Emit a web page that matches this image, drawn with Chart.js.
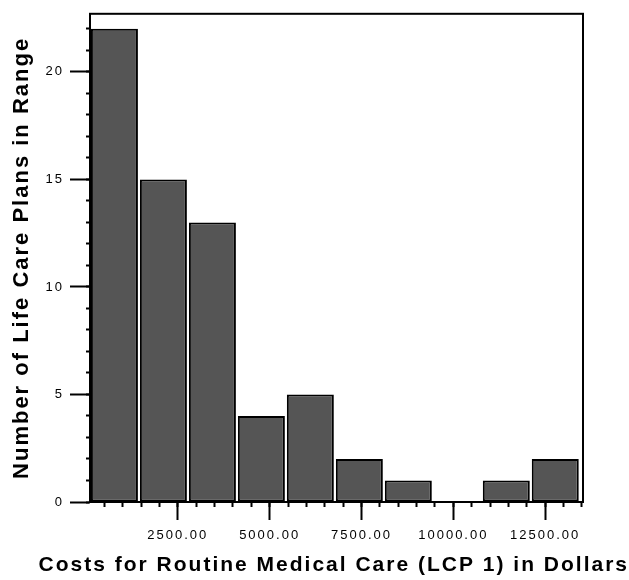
<!DOCTYPE html>
<html>
<head>
<meta charset="utf-8">
<script src="https://cdn.jsdelivr.net/npm/chart.js@4/dist/chart.umd.min.js"></script>
<style>
  html, body { margin: 0; padding: 0; background: #fff; }
  #wrap { width: 629px; height: 580px; }
</style>
</head>
<body>
<div id="wrap"><canvas id="hist"></canvas></div>
<script>
// bin midpoints (dollars) and number of plans per bin
const binCenters = [775, 2108, 3442, 4775, 6108, 7442, 8775, 10108, 11442, 12775];
const planCounts = [22, 15, 13, 4, 5, 2, 1, 0, 1, 2];
// labelled ticks
const xTickValues = [2500, 5000, 7500, 10000, 12500];
const yTickValues = [0, 5, 10, 15, 20];
// unlabelled small ticks
const xMinorStep = 500;
const yMinorStep = 1;

const xRange = { min: 110, max: 13530 };
const yRange = { min: 0, max: 22.7 };

function stepTicks(scale, step) {
  const out = [];
  for (let v = Math.ceil(scale.min / step) * step; v <= scale.max; v += step) out.push({ value: v });
  scale.ticks = out;
}

// wide text spacing like the scanned original + box around the plot
const frame = {
  id: 'frame',
  beforeLayout(chart) { chart.ctx.letterSpacing = '2px'; },
  beforeDraw(chart) { chart.ctx.letterSpacing = '2px'; },
  afterDraw(chart) {
    const a = chart.chartArea, ctx = chart.ctx;
    ctx.save();
    ctx.strokeStyle = '#000';
    ctx.lineWidth = 2;
    ctx.strokeRect(a.left, a.top, a.right - a.left, a.bottom - a.top);
    ctx.restore();
  }
};

new Chart(document.getElementById('hist'), {
  type: 'bar',
  data: {
    datasets: [{
      xAxisID: 'x',
      yAxisID: 'y',
      data: binCenters.map((x, i) => ({ x: x, y: planCounts[i] })),
      backgroundColor: '#555555',
      borderColor: '#000',
      borderWidth: 2,
      borderSkipped: false,
      barPercentage: 0.96,
      categoryPercentage: 1
    }]
  },
  plugins: [frame],
  options: {
    responsive: true,
    maintainAspectRatio: false,
    animation: false,
    layout: { padding: { top: 12, right: 0, bottom: 0, left: 0 } },
    plugins: {
      legend: { display: false },
      tooltip: { enabled: false },
      // x axis title: wider than the plot, so it goes in the full-width title box
      title: {
        display: true,
        position: 'bottom',
        align: 'end',
        text: 'Costs for Routine Medical Care (LCP 1) in Dollars',
        color: '#000',
        font: { family: 'Liberation Sans', size: 21, weight: 'bold' },
        padding: { top: 0, bottom: 2 }
      }
    },
    scales: {
      xm: {
        type: 'linear',
        position: 'bottom',
        weight: 0,
        min: xRange.min,
        max: xRange.max,
        offset: false,
        afterBuildTicks: s => stepTicks(s, xMinorStep),
        afterFit(s) { s.height = 0; },
        border: { display: false },
        grid: { offset: false, drawOnChartArea: false, tickLength: 5, tickColor: '#000', tickWidth: 2 },
        ticks: { display: false }
      },
      x: {
        type: 'linear',
        position: 'bottom',
        weight: 1,
        min: xRange.min,
        max: xRange.max,
        offset: false,
        afterBuildTicks(s) { s.ticks = xTickValues.map(v => ({ value: v })); },
        afterFit(s) { s.height = 50.8; },
        border: { color: '#000', width: 2 },
        grid: { offset: false, drawOnChartArea: false, tickLength: 18, tickColor: '#000', tickWidth: 2 },
        ticks: {
          autoSkip: false,
          maxRotation: 0,
          color: '#000',
          padding: 8,
          font: { family: 'Liberation Sans', size: 13 },
          callback: v => v.toFixed(2)
        }
      },
      ym: {
        position: 'left',
        weight: 0,
        min: yRange.min,
        max: yRange.max,
        afterBuildTicks: s => stepTicks(s, yMinorStep),
        afterFit(s) { s.width = 0; },
        border: { display: false },
        grid: { drawOnChartArea: false, tickLength: 4, tickColor: '#000', tickWidth: 2 },
        ticks: { display: false }
      },
      y: {
        position: 'left',
        weight: 1,
        min: yRange.min,
        max: yRange.max,
        afterBuildTicks(s) { s.ticks = yTickValues.map(v => ({ value: v })); },
        afterFit(s) { s.width = 90; },
        border: { color: '#000', width: 2 },
        grid: { drawOnChartArea: false, tickLength: 20, tickColor: '#000', tickWidth: 2 },
        ticks: {
          color: '#000',
          padding: 6,
          font: { family: 'Liberation Sans', size: 13 }
        },
        title: {
          display: true,
          text: 'Number of Life Care Plans in Range',
          color: '#000',
          font: { family: 'Liberation Sans', size: 22, weight: 'bold' },
          padding: { top: 9, bottom: 0 }
        }
      },
      // empty strip on the right of the plot
      yr: {
        position: 'right',
        min: yRange.min,
        max: yRange.max,
        afterFit(s) { s.width = 46; },
        border: { display: false },
        grid: { display: false },
        ticks: { display: false }
      }
    }
  }
});
</script>
</body>
</html>
